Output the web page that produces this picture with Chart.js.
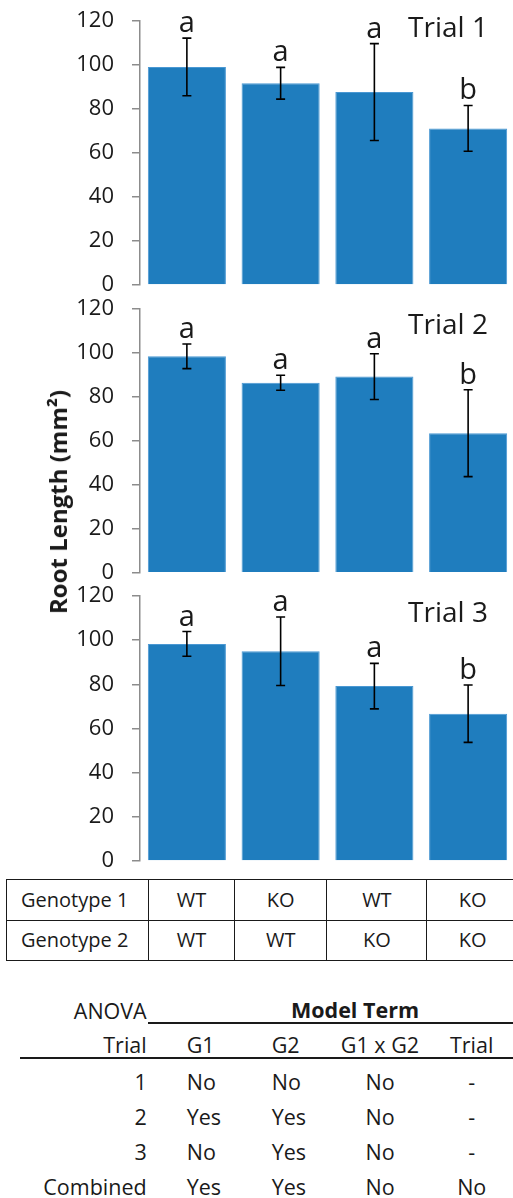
<!DOCTYPE html>
<html>
<head>
<meta charset="utf-8">
<script src="https://cdn.jsdelivr.net/npm/chart.js@4.4.1/dist/chart.umd.min.js"></script>
<style>
html,body{margin:0;padding:0;background:#fff;overflow:hidden;width:513px;height:1198px;}
body{position:relative;font-family:'Open Sans',sans-serif;color:#1a1a1a;}
canvas{position:absolute;left:0;display:block;}
#ytitle{position:absolute;left:58px;top:502px;transform:translate(-50%,-50%) rotate(-90deg);font-weight:bold;font-size:24px;white-space:nowrap;line-height:1;}
#geno{position:absolute;left:6px;top:879px;border-collapse:collapse;table-layout:fixed;width:512px;}
#geno td{border:1.6px solid #1a1a1a;height:39.5px;padding:0;text-align:center;font-size:20px;line-height:1;}
#geno td.first{text-align:left;padding-left:14px;}
.t{position:absolute;white-space:nowrap;font-size:21.5px;height:30px;line-height:30px;}
.hl{position:absolute;height:2px;background:#1a1a1a;}
</style>
</head>
<body>
<canvas id="c1" width="515" height="297" style="top:0px"></canvas>
<canvas id="c2" width="515" height="288" style="top:297px"></canvas>
<canvas id="c3" width="515" height="290" style="top:585px"></canvas>
<div id="ytitle">Root Length (mm²)</div>
<table id="geno">
<colgroup><col style="width:142px"><col style="width:86px"><col style="width:92.4px"><col style="width:100px"><col style="width:91.6px"></colgroup>
<tbody id="genoBody"></tbody>
</table>
<div id="anova"></div>
<script>
// ---- data ----
const categories = ['WT/WT', 'KO/WT', 'WT/KO', 'KO/KO'];
const genotype1 = ['WT', 'KO', 'WT', 'KO'];
const genotype2 = ['WT', 'WT', 'KO', 'KO'];
const genotypeRowLabels = ['Genotype 1', 'Genotype 2'];
const trialNames = ['Trial 1', 'Trial 2', 'Trial 3'];
const trial1Means = [99.0, 91.6, 87.6, 71.1];
const trial1Errors = [13.1, 7.2, 22.0, 10.4];
const trial1Letters = ['a', 'a', 'a', 'b'];
const trial2Means = [98.2, 86.2, 89.0, 63.3];
const trial2Errors = [5.6, 3.4, 10.4, 19.7];
const trial2Letters = ['a', 'a', 'a', 'b'];
const trial3Means = [98.3, 95.0, 79.2, 66.7];
const trial3Errors = [5.6, 15.5, 10.3, 13.0];
const trial3Letters = ['a', 'a', 'a', 'b'];
const yTickValues = [0, 20, 40, 60, 80, 100, 120];
const yAxisTitle = 'Root Length (mm²)';
const anovaCorner = 'ANOVA';
const anovaHeader = 'Model Term';
const anovaRowHeader = 'Trial';
const anovaTerms = ['G1', 'G2', 'G1 x G2', 'Trial'];
const anovaRows = ['1', '2', '3', 'Combined'];
const anovaG1 = ['No', 'Yes', 'No', 'Yes'];
const anovaG2 = ['No', 'Yes', 'Yes', 'Yes'];
const anovaG1xG2 = ['No', 'No', 'No', 'No'];
const anovaTrial = ['-', '-', '-', 'No'];

// ---- layout / style ----
const BAR = '#1F7DBE', BAR_EDGE = '#4A98D3', AXIS = '#8c8c8c', INK = '#1a1a1a';
const FONT = "'Open Sans', sans-serif";
const panels = [
  {id: 'c1', means: trial1Means, errs: trial1Errors, letters: trial1Letters, name: trialNames[0], pad: {top: 20.7, bottom: 12}},
  {id: 'c2', means: trial2Means, errs: trial2Errors, letters: trial2Letters, name: trialNames[1], pad: {top: 11.3, bottom: 12.3}},
  {id: 'c3', means: trial3Means, errs: trial3Errors, letters: trial3Letters, name: trialNames[2], pad: {top: 11, bottom: 14}}
];
document.getElementById('ytitle').textContent = yAxisTitle;

const annotate = {
  id: 'annotate',
  afterDatasetsDraw(chart, args, o) {
    const ctx = chart.ctx, y = chart.scales.y, meta = chart.getDatasetMeta(0);
    ctx.save();
    ctx.strokeStyle = '#000';
    ctx.lineWidth = 1.6;
    ctx.fillStyle = INK;
    meta.data.forEach((bar, i) => {
      const m = o.means[i], e = o.errs[i];
      const hi = y.getPixelForValue(m + e), lo = y.getPixelForValue(m - e);
      const x = bar.x;
      ctx.beginPath();
      ctx.moveTo(x, hi); ctx.lineTo(x, lo);
      ctx.moveTo(x - 4.5, hi); ctx.lineTo(x + 4.5, hi);
      ctx.moveTo(x - 4.5, lo); ctx.lineTo(x + 4.5, lo);
      ctx.stroke();
      ctx.font = '29px ' + FONT;
      ctx.textAlign = 'center';
      ctx.textBaseline = 'alphabetic';
      ctx.fillText(o.letters[i], x, hi - 6);
    });
    ctx.font = '28px ' + FONT;
    ctx.textAlign = 'center';
    ctx.textBaseline = 'alphabetic';
    ctx.fillText(o.name, 448, 37);
    ctx.restore();
  }
};

panels.forEach(p => {
  new Chart(document.getElementById(p.id), {
    type: 'bar',
    data: {
      labels: categories,
      datasets: [{
        data: p.means,
        backgroundColor: BAR,
        borderColor: BAR_EDGE,
        borderWidth: 1,
        categoryPercentage: 1,
        barPercentage: 0.833
      }]
    },
    options: {
      responsive: false,
      animation: false,
      layout: {padding: {top: p.pad.top, bottom: p.pad.bottom, left: 0, right: 0}},
      plugins: {
        legend: {display: false},
        tooltip: {enabled: false},
        annotate: {means: p.means, errs: p.errs, letters: p.letters, name: p.name}
      },
      scales: {
        x: {display: false},
        y: {
          min: yTickValues[0],
          max: yTickValues[yTickValues.length - 1],
          afterBuildTicks(scale) { scale.ticks = yTickValues.map(v => ({value: v})); },
          afterFit(scale) { scale.width = 140; scale.paddingTop = 0; scale.paddingBottom = 0; },
          ticks: {padding: 18, color: INK, font: {family: FONT, size: 22}},
          grid: {drawOnChartArea: false, drawTicks: true, tickLength: 8, color: AXIS, lineWidth: 1.5},
          border: {display: true, color: AXIS, width: 1.5}
        }
      }
    },
    plugins: [annotate]
  });
});

// genotype table
const gb = document.getElementById('genoBody');
[genotype1, genotype2].forEach((row, r) => {
  const tr = document.createElement('tr');
  const th = document.createElement('td');
  th.className = 'first';
  th.textContent = genotypeRowLabels[r];
  tr.appendChild(th);
  row.forEach(v => { const td = document.createElement('td'); td.textContent = v; tr.appendChild(td); });
  gb.appendChild(tr);
});

// ANOVA table
const an = document.getElementById('anova');
function txt(s, x, cy, align, bold) {
  const d = document.createElement('div');
  d.className = 't';
  d.textContent = s;
  const W = 200;
  d.style.top = (cy - 15) + 'px';
  d.style.width = W + 'px';
  d.style.textAlign = align;
  if (align === 'right') d.style.left = (x - W) + 'px';
  else if (align === 'center') d.style.left = (x - W / 2) + 'px';
  else d.style.left = x + 'px';
  if (bold) d.style.fontWeight = 'bold';
  an.appendChild(d);
}
function hline(x1, x2, y) {
  const d = document.createElement('div');
  d.className = 'hl';
  d.style.left = x1 + 'px'; d.style.width = (x2 - x1) + 'px'; d.style.top = (y - 1) + 'px';
  an.appendChild(d);
}
const colX = [186.7, 271.7, 380, 471.7];
const colAlign = ['left', 'left', 'center', 'center'];
txt(anovaCorner, 146.7, 1010.5, 'right');
txt(anovaHeader, 355, 1010, 'center', true);
hline(148, 513, 1023.3);
txt(anovaRowHeader, 146.7, 1045, 'right');
anovaTerms.forEach((t, j) => txt(t, colX[j], 1045, colAlign[j]));
hline(20, 513, 1058.3);
const cols = [anovaG1, anovaG2, anovaG1xG2, anovaTrial];
anovaRows.forEach((r, i) => {
  const cy = 1081.7 + 35 * i;
  txt(r, 146.7, cy, 'right');
  cols.forEach((c, j) => txt(c[i], colX[j], cy, colAlign[j]));
});
</script>
</body>
</html>
